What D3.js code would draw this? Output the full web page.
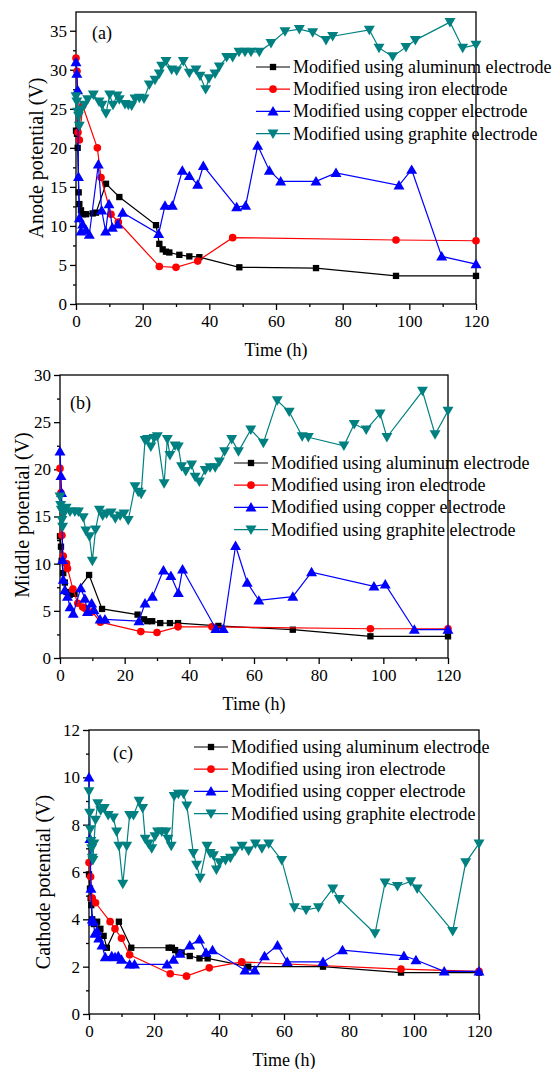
<!DOCTYPE html>
<html>
<head>
<meta charset="utf-8">
<script src="https://cdn.jsdelivr.net/npm/d3@7.9.0/dist/d3.min.js"></script>
<style>
  body { margin: 0; background: #fff; }
  svg { display: block; }
  text { font-family: "Liberation Serif", "Times New Roman", serif; fill: #000; }
</style>
</head>
<body>
<svg id="chart" width="556" height="1069"></svg>
<script>
// series names + styles
const seriesNames = [
  'Modified using aluminum electrode',
  'Modified using iron electrode',
  'Modified using copper electrode',
  'Modified using graphite electrode'
];
const seriesColors = ['#000000', '#ff0000', '#0000ff', '#008080'];
const seriesShapes = ['square', 'circle', 'up', 'down'];

const timeTicks = [0, 20, 40, 60, 80, 100, 120];

// (a) anode potential, [time h, volts]
const anodeAl = [[0,22.2],[0.3,21.8],[0.5,20],[0.8,14.3],[1,12.8],[1.5,12],[2,11.5],[3,11.5],[5,11.6],[6,11.7],[9,15.4],[13,13.7],[24,10.1],[25,7.7],[26,7],[27,6.7],[28,6.6],[31,6.3],[34,6.1],[37,6],[49,4.7],[72,4.6],[96,3.6],[120,3.6]];
const anodeFe = [[0,31.5],[0.3,29.8],[0.6,22],[1,21],[2,25.4],[6.4,20],[7.5,16.2],[10.5,11.5],[12.7,10.5],[25,4.8],[30,4.7],[36.5,5.5],[47,8.5],[96,8.2],[120,8.1]];
const anodeCu = [[0,31],[0.25,29.5],[0.5,27.4],[0.75,16.3],[1,11],[1.5,9.3],[2,10.2],[3,9.5],[4,8.9],[6.7,17.9],[7.7,12],[8.9,9.3],[9.9,12.8],[10.9,9.8],[12.5,10.2],[14,11.7],[24.8,9],[26.7,12.6],[28.9,12.6],[31.9,17.1],[34,16.4],[36.5,15.3],[38.2,17.7],[48.2,12.4],[50.9,12.6],[54.5,20.3],[58,17.1],[61.4,15.7],[72,15.7],[78,16.8],[96.9,15.2],[100.7,17.2],[109.7,6.1],[120,5.1]];
const anodeGr = [[0,26.6],[0.25,25.9],[0.5,24.6],[0.75,24.1],[1,22.8],[1.5,24.9],[2.5,25.5],[3.5,26.2],[5.2,26.8],[6.9,25.9],[7.8,25.5],[9,24.4],[10.1,26.8],[11.1,25.5],[12.3,26.7],[13,26.2],[14.7,25.6],[15.7,25.5],[16.7,25.4],[17.7,26.3],[19,26.4],[20.4,26.3],[22,28.1],[23.7,28.7],[25,29.5],[25.7,30.5],[27,31.1],[28.7,30],[30.2,29.9],[32.2,31.1],[34,29.6],[36,30],[37.2,29.2],[38.9,27.5],[39.9,28.9],[41.7,29.5],[43,30.4],[45.2,31.6],[47,31.6],[48.9,32.3],[50.7,32.3],[52.5,32.3],[55,32.3],[58.5,33.4],[62.7,34.9],[67,35.2],[71,34.8],[75,33.8],[77,34.3],[88,35.1],[90.9,32.8],[95,31.7],[99,32.9],[101.8,33.8],[112.2,36.1],[116,32.8],[120,33.2]];

// (b) middle potential
const middleAl = [[0,12.9],[0.3,11.8],[0.5,10.3],[1,9],[1.5,8],[2,7],[3,6.7],[4.5,6.8],[9,8.8],[13,5.2],[24,4.6],[26,4.1],[27,3.9],[28.5,3.9],[31,3.7],[34,3.7],[36.5,3.7],[49,3.4],[72,3.0],[96,2.3],[120,2.3]];
const middleFe = [[0,20.1],[0.3,17.5],[0.6,13],[1,10.8],[2,10],[2.3,9.5],[4,7.3],[5.5,5.8],[7,5.4],[8,5.2],[10,4.9],[12.5,3.8],[25,2.8],[30,2.7],[36.5,3.3],[47,3.3],[96,3.1],[120,3.1]];
const middleCu = [[0,21.9],[0.3,19.3],[0.5,17.5],[0.8,10.4],[1,8.3],[1.5,7.2],[2.3,6.5],[3.1,5.4],[4.1,4.7],[6.4,7.4],[7.7,6.3],[8.5,4.9],[9.8,5.8],[10.5,5.1],[12.4,4.1],[13.9,4.1],[24.4,3.9],[26.3,5.8],[28.6,6.5],[32,9.3],[34.3,8.7],[36.6,6.9],[37.9,9.4],[48.2,3.1],[50.5,3.1],[54.3,11.9],[57.9,8.0],[61.5,6.1],[72,6.5],[77.8,9.1],[97.1,7.6],[100.6,7.8],[109.6,3.0],[120,3.0]];
const middleGr = [[0,17.1],[0.2,16.2],[0.4,15.7],[0.6,14.6],[0.8,13.9],[1.2,15.3],[1.9,15.9],[3.1,15.5],[4.6,15.5],[5.7,15.5],[7.2,14.9],[8,13.5],[9.1,12.9],[10,10.3],[11,13.6],[12.2,15.7],[13.2,15.1],[14.4,15.3],[15.8,15.4],[17.1,14.8],[18.6,15.1],[19.8,15.3],[21.1,14.6],[23.2,18.2],[24.2,17.6],[25.1,17.4],[26.3,23.1],[27.1,23.2],[28.1,22.4],[29.1,23.3],[30.1,23.5],[32.2,18.5],[33.2,23.2],[34,21.5],[35.6,22.5],[36.6,22.4],[37.6,20.3],[38.9,19.8],[40.7,20.5],[41.8,19.2],[43.1,18.7],[44.9,19.9],[46.4,20.2],[48,20.2],[49.3,20.8],[50.9,21.9],[53.1,23.2],[55.2,21.9],[59,24.2],[62.9,22.8],[67.2,27.3],[70.9,26.1],[74.9,23.5],[76.8,23.4],[87.8,22.5],[91,24.8],[94.7,24.2],[99,25.9],[101.1,23.4],[112.1,28.3],[116,23.7],[120,26.2]];

// (c) cathode potential
const cathodeAl = [[0,5.9],[0.3,5.3],[0.5,4.9],[0.7,4.6],[1,4.0],[1.5,3.8],[2.5,3.9],[3.5,3.6],[4.5,3.3],[5.5,2.8],[9.2,3.9],[13,2.8],[24.5,2.8],[25.5,2.8],[26.5,2.7],[27.5,2.6],[28.5,2.6],[31,2.45],[34,2.35],[36.5,2.35],[49,2.0],[72,2.0],[96,1.75],[120,1.75]];
const cathodeFe = [[0,6.4],[0.5,5.8],[1,4.9],[2,4.7],[6.5,3.9],[8,3.6],[10,3.2],[12.5,2.5],[25,1.7],[30,1.6],[37,1.95],[47,2.2],[96,1.9],[120,1.8]];
const cathodeCu = [[0,10],[0.3,7.4],[0.6,5.3],[1,4.0],[1.3,3.9],[1.8,3.4],[2.5,3.5],[3,3.2],[4,2.9],[5,2.4],[7,2.45],[8,2.4],[9,2.45],[10,2.3],[12.5,2.1],[14,2.1],[24,2.1],[26,2.3],[28,2.55],[31,2.9],[34,3.15],[36,2.6],[38,2.7],[48,1.85],[51,1.85],[54,2.45],[58,2.9],[61,2.2],[72,2.2],[78,2.7],[96.9,2.46],[100.6,2.28],[109.3,1.8],[120,1.8]];
const cathodeGr = [[0,9.4],[0.2,8.5],[0.4,7.8],[0.6,7.3],[0.8,7.0],[1,6.6],[1.2,6.5],[1.5,7.2],[2,8.2],[2.7,8.9],[3.6,8.6],[4.7,8.7],[5.9,8.4],[7.5,8.3],[8.5,7.7],[9.2,7.1],[10.4,5.5],[11.6,7.1],[12.5,8.4],[13.7,8.4],[15.4,9.0],[16.5,8.7],[17.3,7.4],[18.3,7.2],[19.3,7.0],[20.3,7.5],[21.1,7.7],[22.4,7.7],[23.7,7.7],[24.3,7.4],[25.3,7.1],[26.2,9.2],[27.5,9.3],[29.1,9.3],[30.1,8.8],[32.1,6.8],[33.1,6.3],[34.2,5.75],[36.3,7.1],[37.3,6.8],[38.3,6.7],[39.2,6.1],[40.2,6.4],[42,6.5],[43.5,6.6],[45,6.9],[47.1,7.1],[49.1,6.9],[51.2,7.2],[53.2,7.0],[55.3,7.2],[59.3,6.5],[63.2,4.5],[66.8,4.4],[70.6,4.5],[75,5.3],[77,4.85],[88,3.4],[91.1,5.55],[94.9,5.4],[99,5.6],[101,5.3],[111.9,3.5],[115.9,6.4],[120,7.2]];

// layout of the three panels (pixels)
const panels = [
  { tag: '(a)', yLabel: 'Anode potential (V)', yMax: 37.4, yStep: 5, minorY: 2.5,
    data: [anodeAl, anodeFe, anodeCu, anodeGr],
    left: 76, right: 476, top: 12, bottom: 304,
    legX: 256, legY: 67, tagX: 92, tagY: 39, yTitleX: 36, yTitleY: 158 },
  { tag: '(b)', yLabel: 'Middle potential (V)', yMax: 30, yStep: 5, minorY: 2.5,
    data: [middleAl, middleFe, middleCu, middleGr],
    left: 60, right: 448, top: 375, bottom: 658,
    legX: 234, legY: 463, tagX: 70, tagY: 409, yTitleX: 22, yTitleY: 515 },
  { tag: '(c)', yLabel: 'Cathode potential (V)', yMax: 12, yStep: 2, minorY: 1,
    data: [cathodeAl, cathodeFe, cathodeCu, cathodeGr],
    left: 89, right: 479, top: 730, bottom: 1014,
    legX: 194, legY: 747, tagX: 113, tagY: 759, yTitleX: 43, yTitleY: 882 }
];

const svg = d3.select('#chart');

function symbolPath(shape) {
  if (shape === 'square') return d3.symbol().type(d3.symbolSquare).size(40)();
  if (shape === 'circle') return d3.symbol().type(d3.symbolCircle).size(46)();
  return d3.symbol().type(d3.symbolTriangle).size(52)();
}

function addMarker(g, shape, color, cx, cy) {
  let rot = shape === 'down' ? ' rotate(180)' : '';
  let dy = shape === 'up' ? 1 : (shape === 'down' ? -1 : 0);
  g.append('path')
    .attr('d', symbolPath(shape))
    .attr('transform', `translate(${cx},${cy + dy})${rot}`)
    .attr('fill', color);
}

function drawPanel(p) {
  const g = svg.append('g');
  const x = d3.scaleLinear().domain([0, 120]).range([p.left, p.right]);
  const y = d3.scaleLinear().domain([0, p.yMax]).range([p.bottom, p.top]);

  const yTicks = d3.range(0, p.yMax + 0.001, p.yStep);
  const yMinor = d3.range(0, p.yMax + 0.001, p.minorY).filter(v => !yTicks.includes(v));
  const xMinor = d3.range(10, 120, 20);

  // axes, major + minor
  const xg = g.append('g').attr('transform', `translate(0,${p.bottom})`);
  xg.call(d3.axisBottom(x).tickValues(timeTicks).tickSize(6).tickPadding(5).tickFormat(d3.format('d')));
  xg.append('g').call(d3.axisBottom(x).tickValues(xMinor).tickSize(3).tickFormat(''));

  const yg = g.append('g').attr('transform', `translate(${p.left},0)`);
  yg.call(d3.axisLeft(y).tickValues(yTicks).tickSize(6).tickPadding(3).tickFormat(d3.format('d')));
  yg.append('g').call(d3.axisLeft(y).tickValues(yMinor).tickSize(3).tickFormat(''));

  g.selectAll('.domain').remove();
  g.selectAll('.tick line').attr('stroke', '#000').attr('stroke-width', 1.3);
  g.selectAll('.tick text')
    .attr('font-family', '"Liberation Serif", "Times New Roman", serif')
    .attr('font-size', 17).attr('fill', '#000');

  // frame
  g.append('rect')
    .attr('x', p.left).attr('y', p.top)
    .attr('width', p.right - p.left).attr('height', p.bottom - p.top)
    .attr('fill', 'none').attr('stroke', '#000').attr('stroke-width', 1.3);

  // series
  const line = d3.line().x(d => x(d[0])).y(d => y(d[1]));
  p.data.forEach((pts, i) => {
    g.append('path').datum(pts)
      .attr('d', line)
      .attr('fill', 'none')
      .attr('stroke', seriesColors[i])
      .attr('stroke-width', 1.2);
    pts.forEach(d => addMarker(g, seriesShapes[i], seriesColors[i], x(d[0]), y(d[1])));
  });

  // legend
  seriesNames.forEach((name, i) => {
    const ly = p.legY + i * 22.2;
    g.append('line')
      .attr('x1', p.legX).attr('x2', p.legX + 34)
      .attr('y1', ly).attr('y2', ly)
      .attr('stroke', seriesColors[i]).attr('stroke-width', 1.2);
    addMarker(g, seriesShapes[i], seriesColors[i], p.legX + 17, ly);
    g.append('text')
      .attr('x', p.legX + 37).attr('y', ly + 6)
      .attr('font-size', 18)
      .text(name);
  });

  // labels
  g.append('text').attr('x', p.tagX).attr('y', p.tagY).attr('font-size', 18).text(p.tag);
  g.append('text')
    .attr('x', (p.left + p.right) / 2).attr('y', p.bottom + 52)
    .attr('text-anchor', 'middle').attr('font-size', 18)
    .text('Time (h)');
  g.append('text')
    .attr('transform', `translate(${p.yTitleX},${p.yTitleY}) rotate(-90)`)
    .attr('text-anchor', 'middle').attr('dy', '0.35em')
    .attr('font-size', 20)
    .text(p.yLabel);
}

panels.forEach(drawPanel);
</script>
</body>
</html>
